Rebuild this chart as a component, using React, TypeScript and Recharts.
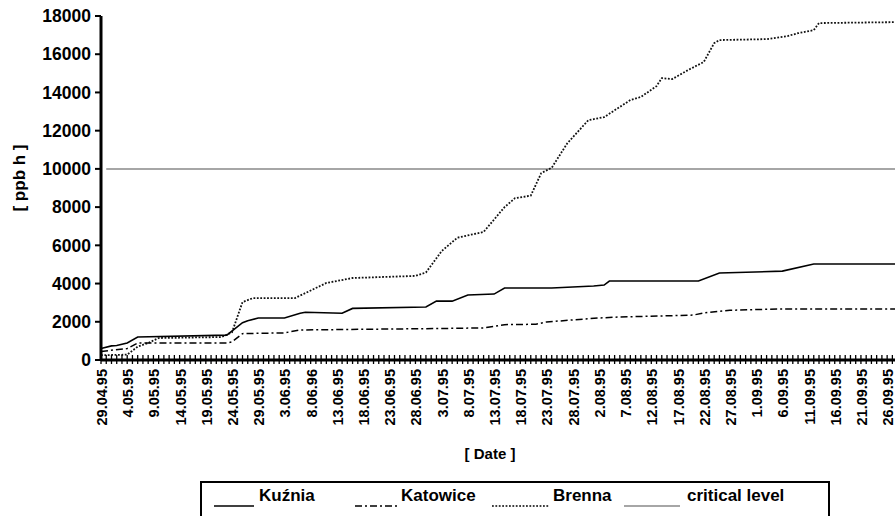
import React from 'react';
import { LineChart, Line, XAxis, YAxis } from 'recharts';

const FONT = '"Liberation Sans", Arial, Helvetica, sans-serif';

// x-axis date labels (one every 5 days, day 0 = 29.04.95)
const dateLabels = [
  '29.04.95', '4.05.95', '9.05.95', '14.05.95', '19.05.95', '24.05.95', '29.05.95',
  '3.06.95', '8.06.96', '13.06.95', '18.06.95', '23.06.95', '28.06.95', '3.07.95',
  '8.07.95', '13.07.95', '18.07.95', '23.07.95', '28.07.95', '2.08.95', '7.08.95',
  '12.08.95', '17.08.95', '22.08.95', '27.08.95', '1.09.95', '6.09.95', '11.09.95',
  '16.09.95', '21.09.95', '26.09.95',
];

const yTicks = [0, 2000, 4000, 6000, 8000, 10000, 12000, 14000, 16000, 18000];

// Kuźnia (days since 29.04.95, cumulative ppb h)
const kuzniaDays = [0, 2, 3, 5, 7, 24, 27, 28, 30, 35, 38, 39, 46, 48, 62, 64, 67, 70, 75, 77, 86, 94, 96, 97, 114, 118, 130, 136, 152];
const kuzniaValues = [600, 740, 760, 890, 1200, 1300, 1950, 2050, 2200, 2200, 2450, 2500, 2450, 2700, 2770, 3080, 3080, 3400, 3450, 3770, 3770, 3870, 3920, 4130, 4130, 4550, 4650, 5020, 5020];

// Katowice
const katowiceDays = [0, 5, 7, 24, 25, 27, 35, 38, 65, 73, 77, 83, 85, 95, 99, 113, 115, 120, 129, 152];
const katowiceValues = [450, 600, 890, 890, 950, 1380, 1420, 1570, 1650, 1680, 1850, 1870, 1990, 2200, 2250, 2350, 2460, 2600, 2670, 2670];

// Brenna
const brennaDays = [0, 5, 7, 9, 11, 23, 25, 27, 29, 37, 43, 48, 60, 62, 65, 68, 73, 77, 79, 82, 84, 86, 89, 93, 96, 101, 103, 106, 107, 109, 112, 115, 117, 118, 127, 131, 133, 136, 137, 152];
const brennaValues = [250, 280, 700, 890, 1150, 1200, 1450, 3030, 3240, 3240, 4030, 4290, 4400, 4580, 5700, 6400, 6700, 8000, 8470, 8600, 9780, 10060, 11350, 12550, 12710, 13600, 13760, 14330, 14750, 14700, 15170, 15590, 16580, 16740, 16790, 16950, 17100, 17260, 17630, 17680];

// critical level
const criticalDays = [1, 152];
const criticalValue = 10000;

const X_END = 151.5;
const dayTicks = Array.from({ length: 152 }, (_, i) => i);

const toPoints = (days: number[], values: number[]) => days.map((d, i) => ({ day: d, value: values[i] }));
const kuzniaData = toPoints(kuzniaDays, kuzniaValues);
const katowiceData = toPoints(katowiceDays, katowiceValues);
const brennaData = toPoints(brennaDays, brennaValues);
const criticalData = criticalDays.map((d) => ({ day: d, value: criticalValue }));

const XTick = (props: any) => {
  const { x, y, payload } = props;
  const d = payload.value as number;
  const label = d % 5 === 0 ? dateLabels[d / 5] : undefined;
  return (
    <g>
      <line x1={x} x2={x} y1={y - 5} y2={y + 4} stroke="#000" strokeWidth={1.3} />
      {label && (
        <text
          transform={`translate(${x + 6},${y + 9}) rotate(-90)`}
          textAnchor="end"
          fontSize={14.5}
          fontWeight="bold"
          fontFamily={FONT}
          fill="#000"
        >
          {label}
        </text>
      )}
    </g>
  );
};

const legendItems = [
  { name: 'Kuźnia', lineX: 12, lineW: 40, textX: 57, dash: undefined as string | undefined, color: '#000', width: 1.6 },
  { name: 'Katowice', lineX: 153, lineW: 45, textX: 199, dash: '7 3 2 3', color: '#000', width: 1.5 },
  { name: 'Brenna', lineX: 290, lineW: 57, textX: 351, dash: '1.8 1.6', color: '#000', width: 1.6 },
  { name: 'critical level', lineX: 422, lineW: 56, textX: 485, dash: undefined, color: '#a6a6a6', width: 2 },
];

export default function App() {
  return (
    <div style={{ position: 'absolute', left: 0, top: 0, width: 895, height: 516, overflow: 'hidden', background: '#fff' }}>
      <LineChart width={895} height={516} margin={{ top: 16, right: 0, bottom: 0, left: 0 }}>
        <XAxis
          dataKey="day"
          type="number"
          domain={[0, X_END]}
          allowDataOverflow
          ticks={dayTicks}
          interval={0}
          height={156}
          tickSize={0}
          tickMargin={0}
          tickLine={false}
          tick={<XTick />}
          axisLine={{ stroke: '#000', strokeWidth: 3 }}
          label={{
            content: () => (
              <text x={490} y={459} textAnchor="middle" fontSize={15} fontWeight="bold" fontFamily={FONT} fill="#000">
                [ Date ]
              </text>
            ),
          }}
        />
        <YAxis
          type="number"
          domain={[0, 18000]}
          ticks={yTicks}
          interval={0}
          width={101}
          tickSize={6}
          tickMargin={4}
          tickLine={{ stroke: '#000', strokeWidth: 2 }}
          axisLine={{ stroke: '#000', strokeWidth: 3 }}
          tick={{ fill: '#000', fontSize: 17.5, fontWeight: 'bold', fontFamily: FONT }}
          label={{
            content: () => (
              <text transform="translate(25,178) rotate(-90)" textAnchor="middle" fontSize={17} fontWeight="bold" fontFamily={FONT} fill="#000">
                [ ppb h ]
              </text>
            ),
          }}
        />
        <Line data={criticalData} dataKey="value" name="critical level" type="linear" stroke="#a6a6a6" strokeWidth={2} dot={false} activeDot={false} isAnimationActive={false} />
        <Line data={brennaData} dataKey="value" name="Brenna" type="linear" stroke="#111" strokeWidth={1.8} strokeDasharray="1.8 1.6" dot={false} activeDot={false} isAnimationActive={false} />
        <Line data={katowiceData} dataKey="value" name="Katowice" type="linear" stroke="#000" strokeWidth={1.5} strokeDasharray="7 3 2 3" dot={false} activeDot={false} isAnimationActive={false} />
        <Line data={kuzniaData} dataKey="value" name="Kuźnia" type="linear" stroke="#000" strokeWidth={1.6} dot={false} activeDot={false} isAnimationActive={false} />
      </LineChart>
      <div
        style={{
          position: 'absolute',
          left: 200,
          top: 481,
          width: 630,
          height: 45,
          border: '2px solid #000',
          boxSizing: 'border-box',
          fontFamily: FONT,
          fontWeight: 'bold',
          fontSize: 17,
          color: '#000',
        }}
      >
        {legendItems.map((it) => (
          <React.Fragment key={it.name}>
            <svg style={{ position: 'absolute', left: it.lineX, top: 20 }} width={it.lineW} height={6}>
              <line x1={0} x2={it.lineW} y1={3} y2={3} stroke={it.color} strokeWidth={it.width} strokeDasharray={it.dash} />
            </svg>
            <span style={{ position: 'absolute', left: it.textX, top: 3, whiteSpace: 'nowrap' }}>{it.name}</span>
          </React.Fragment>
        ))}
      </div>
    </div>
  );
}
